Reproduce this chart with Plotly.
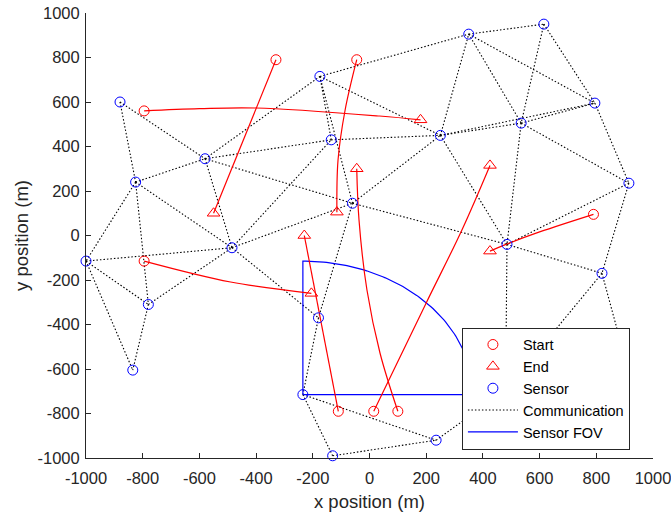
import numpy as np
import plotly.graph_objects as go

# ---- data ----
sensor_x = [-880, -825, -580, -1000, -780, -835, -485, -175, -135, -60, -180, -235,
            -130, 235, 250, 350, 615, 535, 795, 915, 485, 820, 480, 890]
sensor_y = [600, 240, 345, -115, -310, -605, -55, 715, 430, 145, -370, -715,
            -990, -920, 450, 905, 950, 505, 595, 235, -40, -170, -695, -500]

comm_links = [(0, 1), (0, 2), (1, 2), (1, 3), (1, 4), (1, 6), (2, 7), (2, 8), (2, 9), (2, 6),
              (3, 6), (3, 4), (3, 5), (4, 5), (4, 6), (6, 8), (6, 9), (6, 10), (7, 8), (7, 9),
              (7, 15), (7, 14), (8, 14), (9, 14), (9, 20), (9, 10), (10, 11), (11, 12), (11, 13),
              (12, 13), (13, 22), (14, 15), (14, 17), (14, 18), (14, 20), (15, 16), (15, 17),
              (15, 18), (16, 17), (16, 18), (17, 18), (17, 19), (17, 20), (18, 19), (19, 20),
              (19, 21), (20, 21), (20, 22), (21, 22), (21, 23)]

start_x = [-330, -45, -795, -795, -110, 15, 100, 790]
start_y = [790, 790, 560, -115, -790, -790, -790, 95]
end_x = [-550, -115, 180, -205, -230, 425, -45, 425]
end_y = [100, 105, 520, -260, 0, 315, 300, -70]

# intermediate path points, one list per target
path_mid_x = [[], [-86, -111], [-600, -400, 35], [-490], [], [200, 326], [37, -9, -37], [600, 475]]
path_mid_y = [[], [564, 339], [570, 573, 537], [-209], [], [-303, 25], [-528, -245, 70], [16, -43]]

fov_sensor = 11
fov_range = 600
fov_angles_deg = (0, 90)

AX = '#262626'
FONT = 'Liberation Sans, Arial, sans-serif'

fig = go.Figure()

# communication links
cx, cy = [], []
for i, j in comm_links:
    cx += [sensor_x[i], sensor_x[j], None]
    cy += [sensor_y[i], sensor_y[j], None]
fig.add_trace(go.Scatter(x=cx, y=cy, mode='lines', name='Communication',
                         line=dict(color='black', width=1.1, dash='1.5px,2px'),
                         legendrank=4, hoverinfo='skip'))

# sensor FOV
fcx, fcy = sensor_x[fov_sensor], sensor_y[fov_sensor]
th = np.radians(np.linspace(fov_angles_deg[0], fov_angles_deg[1], 91))
fx = [fcx] + list(fcx + fov_range * np.cos(th)) + [fcx]
fy = [fcy] + list(fcy + fov_range * np.sin(th)) + [fcy]
fig.add_trace(go.Scatter(x=fx, y=fy, mode='lines', name='Sensor FOV',
                         line=dict(color='#0000ff', width=1.2), legendrank=5))

# target paths
for k in range(len(start_x)):
    px = [start_x[k]] + path_mid_x[k] + [end_x[k]]
    py = [start_y[k]] + path_mid_y[k] + [end_y[k]]
    fig.add_trace(go.Scatter(x=px, y=py, mode='lines', showlegend=False,
                             line=dict(color='#ff0000', width=1.2, shape='spline', smoothing=1)))

fig.add_trace(go.Scatter(x=start_x, y=start_y, mode='markers', name='Start',
                         marker=dict(symbol='circle-open', size=10, color='#ff0000', line=dict(width=1)),
                         legendrank=1, cliponaxis=False))
fig.add_trace(go.Scatter(x=end_x, y=end_y, mode='markers', name='End',
                         marker=dict(symbol='triangle-up-open', size=11, color='#ff0000', line=dict(width=1)),
                         legendrank=2, cliponaxis=False))
fig.add_trace(go.Scatter(x=sensor_x, y=sensor_y, mode='markers', name='Sensor',
                         marker=dict(symbol='circle-open', size=10, color='#0000ff', line=dict(width=1)),
                         legendrank=3, cliponaxis=False))

ticks = list(range(-1000, 1001, 200))
axis_common = dict(range=[-1000, 1000], tickvals=ticks, ticktext=[str(t) for t in ticks],
                   ticks='inside', ticklen=5, tickcolor=AX, showline=True, linecolor=AX,
                   linewidth=1, mirror=False, showgrid=False, zeroline=False,
                   tickfont=dict(size=16.5, color=AX, family=FONT), automargin=False,
                   ticklabeloverflow='allow')

fig.update_layout(
    width=671, height=512,
    margin=dict(l=86, r=18, t=13, b=54),
    paper_bgcolor='white', plot_bgcolor='white',
    font=dict(family=FONT, color=AX),
    xaxis=dict(**axis_common, title=dict(text='x position (m)', font=dict(size=18.5, color=AX), standoff=9),
               ticklabelstandoff=5),
    yaxis=dict(**axis_common, title=dict(text='y position (m)', font=dict(size=18.5, color=AX), standoff=4),
               ticklabelstandoff=2),
    legend=dict(x=0.663, y=0.156, xanchor='left', yanchor='middle', bgcolor='white',
                bordercolor=AX, borderwidth=1, font=dict(size=14.5, color='black', family=FONT),
                itemwidth=50, tracegroupgap=0),
    showlegend=True,
)

# remove the browser's default 8px page margin so the 671x512 figure fills the window
fig.write_html('out.html', config={'displayModeBar': False},
               post_script="document.body.style.margin='0px';")
